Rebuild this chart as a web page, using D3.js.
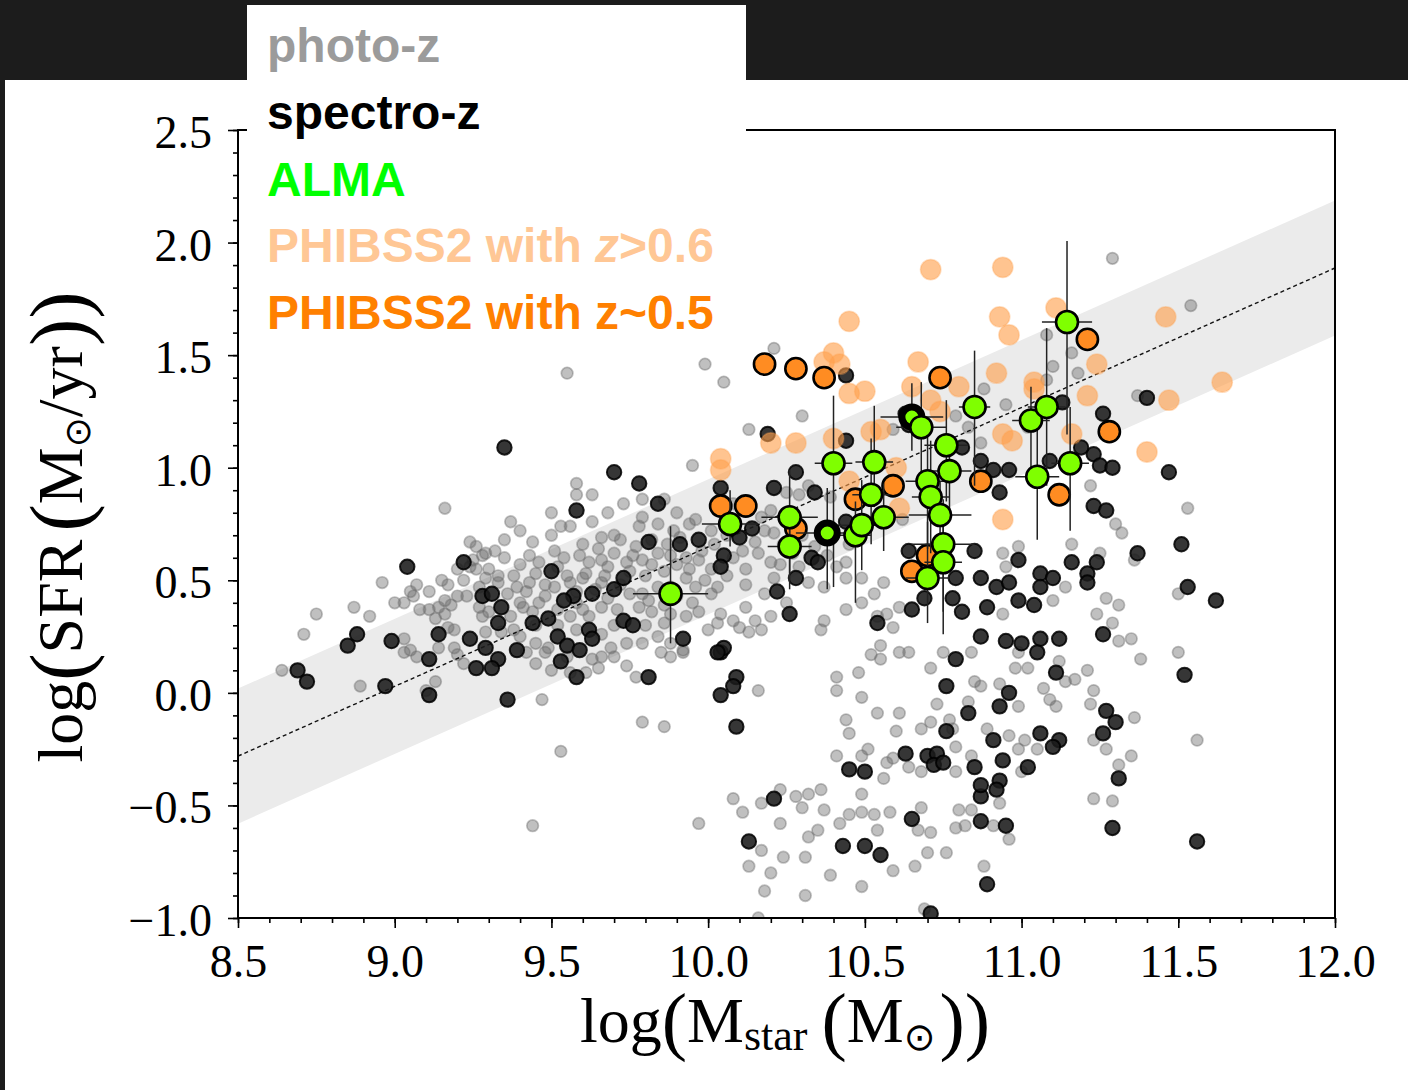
<!DOCTYPE html>
<html>
<head>
<meta charset="utf-8">
<script src="https://cdn.jsdelivr.net/npm/d3@7"></script>
<style>
  html, body { margin: 0; padding: 0; background: #1c1c1c; }
  svg { display: block; }
</style>
</head>
<body>
<svg id="chart" width="1408" height="1090"></svg>
<script>
// ---------- data: [log Mstar, log SFR] ----------
const photoZ = [
  [9.16,0.82],[9.24,0.67],[9.26,0.65],[9.28,0.61],[8.96,0.49],[8.75,0.35],[8.71,0.26],[8.87,0.38],[8.92,0.34],[8.64,0.10],
  [8.89,0.03],[9.13,0.05],[9.10,0.01],[9.11,0.45],[9.07,0.48],[9.05,0.45],[9.00,0.40],[9.03,0.40],[9.06,0.43],[9.15,0.50],
  [9.17,0.48],[9.08,0.37],[9.11,0.37],[9.13,0.33],[9.16,0.35],[9.18,0.39],[9.20,0.43],[9.23,0.43],[9.24,0.56],[9.29,0.51],
  [9.17,0.29],[9.19,0.28],[9.19,0.20],[9.14,0.20],[9.03,0.24],[9.03,0.18],[9.05,0.19],[9.07,0.16],[9.20,0.17],[9.22,0.13],
  [9.28,0.34],[9.27,0.38],[9.14,0.38],[9.16,0.41],[9.53,-0.26],[9.44,-0.59],
  [9.95,1.01],[9.58,0.93],[9.58,0.88],[9.63,0.88],[9.79,0.86],[9.86,0.86],[9.37,0.76],[9.40,0.72],[9.53,0.74],[9.56,0.74],
  [9.63,0.76],[9.66,0.69],[9.70,0.70],[9.78,0.74],[9.84,0.75],[9.89,0.72],[9.94,0.75],[9.79,0.78],[9.29,0.62],[9.32,0.63],
  [9.25,0.59],[9.26,0.55],[9.33,0.52],[9.40,0.57],[9.43,0.61],[9.46,0.58],[9.51,0.63],[9.54,0.60],[9.59,0.61],[9.62,0.58],
  [9.66,0.59],[9.68,0.56],[9.74,0.58],[9.79,0.59],[9.84,0.62],[9.88,0.61],[9.93,0.60],[9.97,0.59],[10.01,0.55],[9.39,0.47],
  [9.43,0.49],[9.51,0.47],[9.56,0.49],[9.60,0.51],[9.66,0.49],[9.79,0.44],[9.84,0.47],[9.88,0.47],[9.93,0.51],[9.96,0.47],
  [9.97,0.36],[9.93,0.34],[9.88,0.35],[9.82,0.36],[9.78,0.38],[9.66,0.38],[9.60,0.37],[9.56,0.34],[9.46,0.40],[9.41,0.38],
  [9.37,0.34],[9.34,0.27],[9.40,0.25],[9.45,0.22],[9.49,0.20],[9.69,0.20],[9.74,0.22],[9.79,0.22],[9.84,0.25],[9.88,0.22],
  [9.92,0.19],[9.85,0.18],[9.88,0.16],[9.70,0.16],[9.63,0.15],[9.45,0.13],[9.48,0.18],[9.61,0.09],[9.56,0.09],[9.50,0.10],
  [9.65,0.11],[10.00,0.28],[9.77,0.07],[9.47,-0.03],[9.79,-0.13],[9.86,-0.15],[9.29,0.27],
  [9.30,0.55],[9.35,0.60],[9.38,0.52],[9.42,0.45],[9.45,0.53],[9.48,0.48],[9.52,0.56],[9.55,0.52],[9.58,0.45],[9.61,0.53],
  [9.64,0.46],[9.67,0.52],[9.70,0.62],[9.72,0.48],[9.75,0.54],[9.77,0.65],[9.80,0.52],[9.82,0.57],[9.86,0.54],[9.90,0.57],
  [9.94,0.55],[9.98,0.63],[10.02,0.66],[10.06,0.70],[10.08,0.60],[10.12,0.55],[10.15,0.67],[10.18,0.72],[10.24,0.66],[10.27,0.62],
  [9.36,0.44],[9.40,0.40],[9.44,0.36],[9.48,0.43],[9.52,0.37],[9.58,0.40],[9.62,0.34],[9.68,0.42],[9.71,0.37],[9.75,0.44],
  [9.81,0.41],[9.86,0.39],[9.90,0.43],[9.95,0.40],[9.99,0.50],[10.03,0.47],[10.06,0.52],[9.33,0.49],[9.27,0.47],[9.22,0.50],
  [9.20,0.55],[9.35,0.68],[9.44,0.67],[9.50,0.70],[9.60,0.66],[9.65,0.64],[9.72,0.68],[9.76,0.61],[9.82,0.68],[9.87,0.66],
  [9.91,0.69],[9.45,0.30],[9.52,0.30],[9.58,0.28],[9.66,0.26],[9.70,0.30],[9.80,0.30],[9.86,0.31],[9.38,0.28],[9.42,0.18],
  [9.55,0.16],[9.66,0.16],[9.74,0.12],[9.30,0.36],[9.50,0.80],[9.68,0.80],[9.73,0.84],[9.90,0.80],[10.08,0.84],[10.12,0.48],
  [10.18,0.44],[10.25,0.40],[10.30,0.70],[10.34,0.65],[10.38,0.61],[10.45,0.66],
  [10.13,1.17],[10.32,0.92],[10.25,0.89],[10.29,0.88],[10.39,0.87],[9.96,0.77],[10.01,0.72],[10.17,0.78],[10.20,0.81],[10.21,0.71],
  [10.11,0.63],[10.16,0.62],[10.20,0.58],[10.23,0.57],[10.21,0.51],[10.29,0.56],[10.32,0.49],[10.37,0.47],[10.41,0.56],[10.44,0.58],
  [10.49,0.51],[10.44,0.51],[10.53,0.44],[10.49,0.40],[10.56,0.49],[10.61,0.38],[10.57,0.35],[10.54,0.34],[10.59,0.29],[10.62,0.77],
  [10.37,0.32],[10.36,0.28],[10.44,0.37],[10.01,0.44],[10.04,0.35],[10.08,0.32],[10.12,0.38],[10.15,0.32],[10.10,0.29],[10.13,0.27],
  [10.17,0.28],[10.03,0.31],[10.20,0.34],[10.16,0.01],[10.41,0.07],[10.48,0.09],[10.41,0.01],[10.52,0.17],[10.55,0.21],[10.61,0.18],
  [10.64,0.18],[10.55,0.15],[10.49,-0.02],[10.61,-0.09],[10.54,-0.09],[10.71,0.11],[10.73,-0.05],
  [9.92,0.18],[10.75,0.18],[10.84,0.18],[10.44,-0.12],[10.45,-0.18],[10.60,-0.17],[10.68,-0.16],[10.71,-0.13],[10.77,-0.12],[10.78,-0.16],
  [10.85,0.05],[10.83,-0.04],[10.41,-0.28],[10.49,-0.28],[10.51,-0.25],[10.57,-0.31],[10.59,-0.29],[10.64,-0.33],[10.68,-0.35],[10.79,-0.24],
  [10.79,-0.35],[10.84,-0.28],[10.56,-0.38],[10.08,-0.47],[10.11,-0.53],[10.17,-0.49],[10.23,-0.43],[10.28,-0.46],[10.32,-0.45],[10.36,-0.43],
  [10.30,-0.51],[10.37,-0.52],[10.23,-0.58],[10.35,-0.61],[10.32,-0.64],[10.42,-0.58],[10.45,-0.54],[10.49,-0.53],[10.53,-0.54],[10.58,-0.53],
  [10.49,-0.45],[10.54,-0.61],[10.68,-0.51],[10.67,-0.61],[10.71,-0.62],[10.80,-0.52],[10.79,-0.60],[10.70,-0.71],[10.76,-0.71],[10.59,-0.79],
  [10.66,-0.77],[10.39,-0.81],[10.49,-0.86],[10.31,-0.90],[10.17,-0.70],[10.13,-0.77],[10.20,-0.80],[10.24,-0.73],[10.31,-0.73],[10.18,-0.88],
  [9.97,-0.58],[10.16,-1.00],[10.69,-0.96],
  [10.94,0.62],[10.99,0.65],[11.16,0.66],[11.25,0.62],[11.36,0.59],[11.14,0.47],[11.10,0.41],[10.95,0.56],[10.94,0.35],[11.27,0.42],
  [11.31,0.39],[11.24,0.35],[11.29,0.31],[11.31,0.23],[11.35,0.24],[11.38,0.15],[11.50,0.18],[10.99,0.18],[11.12,0.14],[10.98,0.11],
  [11.02,0.11],[11.14,0.05],[11.17,0.06],[11.21,0.10],[11.23,0.01],[10.87,0.03],[10.93,0.04],[11.07,0.02],[11.09,-0.03],[11.11,-0.06],
  [11.22,-0.05],[11.36,-0.11],[10.99,-0.06],[10.89,-0.16],[10.96,-0.19],[11.01,-0.21],[11.05,-0.25],[10.99,-0.25],[11.23,-0.21],[11.27,-0.25],
  [11.35,-0.28],[11.31,-0.32],[11.56,-0.21],[11.00,-0.35],[11.23,-0.47],[11.29,-0.48],[10.93,-0.49],[10.84,-0.52],[10.82,-0.59],[10.91,-0.59],
  [10.96,-0.65],[10.88,-0.77],
  [11.29,1.93],[11.54,1.72],[11.37,1.32],[11.22,0.92],[11.53,0.82],[11.30,0.75],[11.32,0.71],[11.50,0.44],
  [10.21,1.53],[9.99,1.46],[10.05,1.38],[10.30,1.23],[9.55,1.42],[10.59,1.17],[11.08,1.59],[11.16,1.51],[11.10,1.45],[11.18,1.42],
  [10.88,1.35],[10.95,1.28],[10.87,1.27],[10.79,1.23],[11.08,1.39],[11.02,1.18],[10.83,1.18],[10.87,1.11]
];

const spectroZ = [
  [8.69,0.10],[8.72,0.05],[8.85,0.21],[8.88,0.26],[8.99,0.23],[8.97,0.03],[9.04,0.56],[9.14,0.26],[9.11,0.15],[9.11,-0.01],
  [9.22,0.58],[9.28,0.43],[9.24,0.24],[9.29,0.20],[9.26,0.11],[9.35,1.09],
  [9.70,0.98],[9.78,0.93],[9.84,0.84],[9.58,0.81],[9.81,0.67],[9.91,0.66],[9.97,0.68],[9.50,0.54],[9.73,0.51],[9.70,0.46],
  [9.63,0.44],[9.57,0.43],[9.54,0.41],[9.31,0.44],[9.34,0.38],[9.33,0.31],[9.44,0.31],[9.49,0.33],[9.73,0.32],[9.76,0.30],
  [9.62,0.28],[9.63,0.24],[9.52,0.25],[9.55,0.21],[9.59,0.19],[9.39,0.19],[9.33,0.15],[9.31,0.11],[9.53,0.14],[9.58,0.07],
  [9.92,0.24],[9.81,0.07],[9.36,-0.03],[10.04,0.18],
  [10.19,1.15],[10.04,0.91],[10.21,0.91],[10.28,0.98],[10.34,0.89],[10.10,0.69],[10.14,0.73],[10.05,0.61],[10.04,0.56],[10.33,0.60],
  [10.35,0.58],[10.28,0.51],[10.22,0.45],[10.26,0.35],[10.54,0.31],[10.64,0.63],[10.65,0.37],[10.69,0.42],[10.44,0.76],[10.05,0.20],
  [10.03,0.18],[10.09,0.07],[10.08,0.03],[10.04,-0.01],[10.09,-0.15],
  [10.79,0.15],[10.76,0.03],[10.83,-0.09],[10.76,-0.17],[10.63,-0.27],[10.70,-0.28],[10.73,-0.27],[10.72,-0.32],[10.75,-0.31],[10.85,-0.33],
  [10.45,-0.34],[10.50,-0.35],[10.21,-0.47],[10.13,-0.66],[10.43,-0.68],[10.50,-0.68],[10.55,-0.72],[10.65,-0.56],[10.71,-0.98],[10.87,-0.57],
  [10.87,-0.46],[10.87,-0.41],
  [10.85,0.63],[10.99,0.59],[11.16,0.58],[11.24,0.58],[11.21,0.53],[11.21,0.49],[11.37,0.62],[11.51,0.66],[11.53,0.47],[11.62,0.41],
  [10.87,0.51],[10.92,0.47],[10.96,0.49],[11.06,0.53],[11.10,0.51],[11.06,0.47],[10.81,0.36],[10.89,0.38],[10.99,0.41],[11.04,0.39],
  [10.87,0.25],[10.95,0.23],[11.00,0.22],[11.06,0.24],[11.12,0.24],[11.05,0.18],[11.26,0.26],[11.52,0.08],[11.11,0.09],[10.96,0.00],
  [10.93,-0.06],[11.27,-0.08],[11.30,-0.13],[11.26,-0.18],[11.06,-0.18],[11.12,-0.21],[11.10,-0.24],[10.91,-0.21],[10.94,-0.30],[11.02,-0.33],
  [10.93,-0.39],[10.92,-0.43],[10.95,-0.59],[11.31,-0.38],[11.29,-0.60],[11.56,-0.66],[10.89,-0.85],
  [10.93,0.89],[11.23,0.83],[11.27,0.81],[10.79,0.51],[10.78,0.42],
  [11.40,1.31],[11.26,1.24],[11.23,1.06],[11.25,1.01],[11.29,1.00],[11.47,0.98],[11.19,1.09],[11.09,1.03],[11.13,1.29],[10.96,0.99],
  [10.91,0.99],[10.87,1.03],[10.81,1.09],[10.44,1.41],[10.44,1.12],[10.63,1.24],[10.64,1.19]
];

const phibssHighZ = [
  [10.71,1.88],[10.94,1.89],[10.45,1.65],[11.11,1.71],[10.93,1.67],[10.96,1.59],[11.46,1.67],[11.64,1.38],[11.47,1.30],[11.40,1.07],
  [10.40,1.51],[10.37,1.47],[10.42,1.46],[10.45,1.33],[10.50,1.34],[10.20,1.11],[10.28,1.11],[10.40,1.13],[10.52,1.16],[10.04,1.04],
  [10.04,0.99],[10.67,1.47],[10.65,1.36],[10.80,1.36],[10.71,1.30],[10.74,1.25],[10.92,1.42],[11.04,1.38],[11.04,1.35],[11.24,1.46],
  [11.21,1.32],[10.94,1.15],[10.97,1.12],[11.16,1.15],[10.45,0.94],[10.60,1.00],[10.61,0.82],[10.94,0.77],[10.55,1.17]
];

const phibssLowZ = [
  [10.18,1.46],[10.28,1.44],[10.37,1.40],[10.04,0.83],[10.12,0.83],[10.28,0.73],[10.47,0.86],[10.59,0.92],[10.74,1.40],[10.87,0.94],
  [11.12,0.88],[11.21,1.57],[11.28,1.16],[10.65,0.54],[10.70,0.61]
];

// ALMA: mass, sfr, mass error, sfr error below, sfr error above, thick-rimmed marker
const alma = [
  [9.88,0.44,0.12,0.22,0.30,0],[10.07,0.75,0.09,0.10,0.15,0],[10.26,0.78,0.09,0.32,0.21,0],[10.26,0.65,0.07,0.12,0.10,0],
  [10.38,0.71,0.10,0.25,0.20,1],[10.40,1.02,0.06,0.55,0.30,0],[10.47,0.70,0.05,0.30,0.15,0],[10.49,0.745,0.08,0.20,0.20,0],
  [10.52,0.88,0.06,0.22,0.25,0],[10.53,1.025,0.06,0.20,0.25,0],[10.56,0.78,0.08,0.15,0.15,0],[10.65,1.225,0.10,0.15,0.15,1],
  [10.68,1.18,0.08,0.25,0.20,0],[10.70,0.94,0.07,0.30,0.20,0],[10.71,0.87,0.06,0.25,0.25,0],[10.76,1.10,0.07,0.25,0.20,0],
  [10.77,0.985,0.07,0.20,0.15,0],[10.74,0.79,0.10,0.25,0.15,0],[10.75,0.66,0.10,0.30,0.20,0],[10.75,0.58,0.06,0.32,0.25,0],
  [10.70,0.51,0.07,0.20,0.25,0],[10.85,1.27,0.05,0.35,0.25,0],[11.03,1.21,0.06,0.25,0.15,0],[11.08,1.27,0.06,0.35,0.35,0],
  [11.05,0.96,0.07,0.28,0.25,0],[11.155,1.02,0.06,0.30,0.25,0],[11.145,1.647,0.08,0.50,0.36,0]
];

// main sequence line end points and scatter half-width (dex)
const mainSequence = [[8.5,-0.281],[12.0,1.887]];
const msScatter = 0.3;

const xTicks = [8.5, 9.0, 9.5, 10.0, 10.5, 11.0, 11.5, 12.0];
const yTicks = [-1.0, -0.5, 0.0, 0.5, 1.0, 1.5, 2.0, 2.5];
const xMinor = d3.range(85, 121).map(v => v / 10);
const yMinor = d3.range(-10, 26).map(v => v / 10);

const legendItems = [
  { parts: [["photo-z", false]], color: "#9b9b9b" },
  { parts: [["spectro-z", false]], color: "#000000" },
  { parts: [["ALMA", false]], color: "#00ff00" },
  { parts: [["PHIBSS2 with ", false], ["z", true], [">0.6", false]], color: "#ffc795" },
  { parts: [["PHIBSS2 with z~0.5", false]], color: "#ff8000" }
];

// ---------- layout ----------
const W = 1408, H = 1090;
const P = { left: 238, right: 1335, top: 130, bottom: 918 };
const svg = d3.select("#chart");

const x = d3.scaleLinear().domain([8.5, 12.0]).range([P.left, P.right]);
const y = d3.scaleLinear().domain([-1.0, 2.5]).range([P.bottom, P.top]);

svg.append("rect").attr("width", W).attr("height", H).attr("fill", "#1c1c1c");
svg.append("rect").attr("x", 5).attr("y", 80).attr("width", W - 5).attr("height", H - 80).attr("fill", "#ffffff");

svg.append("clipPath").attr("id", "plotClip")
  .append("rect").attr("x", P.left).attr("y", P.top)
  .attr("width", P.right - P.left).attr("height", P.bottom - P.top);

const plot = svg.append("g").attr("clip-path", "url(#plotClip)");

// main-sequence band and line
const band = [
  [mainSequence[0][0], mainSequence[0][1] + msScatter],
  [mainSequence[1][0], mainSequence[1][1] + msScatter],
  [mainSequence[1][0], mainSequence[1][1] - msScatter],
  [mainSequence[0][0], mainSequence[0][1] - msScatter]
];
plot.append("path")
  .attr("d", d3.line().x(d => x(d[0])).y(d => y(d[1]))(band) + "Z")
  .attr("fill", "#ebebeb");

// photometric redshifts
plot.append("g").selectAll("circle").data(photoZ).join("circle")
  .attr("cx", d => x(d[0])).attr("cy", d => y(d[1])).attr("r", 5.8)
  .attr("fill", "#6a6a6a").attr("fill-opacity", 0.42)
  .attr("stroke", "#6a6a6a").attr("stroke-opacity", 0.42).attr("stroke-width", 1.7);

// main-sequence dashed line
plot.append("path")
  .attr("d", d3.line().x(d => x(d[0])).y(d => y(d[1]))(mainSequence))
  .attr("fill", "none").attr("stroke", "#111").attr("stroke-width", 1.4)
  .attr("stroke-dasharray", "4,3");

// spectroscopic redshifts
plot.append("g").selectAll("circle").data(spectroZ).join("circle")
  .attr("cx", d => x(d[0])).attr("cy", d => y(d[1])).attr("r", 7.2)
  .attr("fill", "#1a1a1a").attr("fill-opacity", 0.88)
  .attr("stroke", "#000").attr("stroke-opacity", 0.85).attr("stroke-width", 2);

// PHIBSS2 z>0.6
plot.append("g").selectAll("circle").data(phibssHighZ).join("circle")
  .attr("cx", d => x(d[0])).attr("cy", d => y(d[1])).attr("r", 10.2)
  .attr("fill", "#ffa04c").attr("fill-opacity", 0.62)
  .attr("stroke", "#ffa04c").attr("stroke-opacity", 0.35).attr("stroke-width", 1.5);

// PHIBSS2 z~0.5
plot.append("g").selectAll("circle").data(phibssLowZ).join("circle")
  .attr("cx", d => x(d[0])).attr("cy", d => y(d[1])).attr("r", 10.6)
  .attr("fill", "#ff8c22").attr("stroke", "#000").attr("stroke-width", 2.6);

// ALMA error bars
const eb = plot.append("g").attr("stroke", "#222").attr("stroke-width", 1.5);
alma.forEach(d => {
  eb.append("line").attr("x1", x(d[0])).attr("x2", x(d[0]))
    .attr("y1", y(d[1] - d[3])).attr("y2", y(d[1] + d[4]));
  eb.append("line").attr("x1", x(d[0] - d[2])).attr("x2", x(d[0] + d[2]))
    .attr("y1", y(d[1])).attr("y2", y(d[1]));
});

// ALMA markers
plot.append("g").selectAll("circle").data(alma).join("circle")
  .attr("cx", d => x(d[0])).attr("cy", d => y(d[1]))
  .attr("r", d => d[5] ? 10 : 11)
  .attr("fill", "#7fff00").attr("stroke", "#000")
  .attr("stroke-width", d => d[5] ? 7 : 2.6);

// ---------- axes ----------
const fmt = d3.format(".1f");
const serif = "'Liberation Serif', 'Times New Roman', serif";

const xAxis = svg.append("g").attr("transform", `translate(0,${P.bottom})`)
  .call(d3.axisBottom(x).tickValues(xTicks).tickSize(10).tickFormat(fmt));
const xAxisMinor = svg.append("g").attr("transform", `translate(0,${P.bottom})`)
  .call(d3.axisBottom(x).tickValues(xMinor).tickSize(5).tickFormat(""));
const yAxis = svg.append("g").attr("transform", `translate(${P.left},0)`)
  .call(d3.axisLeft(y).tickValues(yTicks).tickSize(10).tickFormat(fmt));
const yAxisMinor = svg.append("g").attr("transform", `translate(${P.left},0)`)
  .call(d3.axisLeft(y).tickValues(yMinor).tickSize(5).tickFormat(""));

[xAxis, xAxisMinor, yAxis, yAxisMinor].forEach(g => {
  g.select(".domain").remove();
  g.selectAll(".tick line").attr("stroke", "#000").attr("stroke-width", 1.6);
});
xAxis.selectAll("text")
  .attr("y", 26).attr("dy", "0.71em")
  .attr("font-family", serif).attr("font-size", 46).attr("fill", "#000");
yAxis.selectAll("text")
  .attr("x", -26).attr("dy", "0.38em")
  .attr("font-family", serif).attr("font-size", 46).attr("fill", "#000");

// frame
svg.append("rect").attr("x", P.left).attr("y", P.top)
  .attr("width", P.right - P.left).attr("height", P.bottom - P.top)
  .attr("fill", "none").attr("stroke", "#000").attr("stroke-width", 2);

// axis titles
const yTitle = svg.append("text")
  .attr("transform", "translate(82,527) rotate(-90)")
  .attr("text-anchor", "middle")
  .attr("font-family", serif).attr("font-size", 64).attr("fill", "#000");
yTitle.append("tspan").text("log");
yTitle.append("tspan").attr("font-size", 82).attr("dy", 5).text("(");
yTitle.append("tspan").attr("dy", -5).text("SFR");
yTitle.append("tspan").attr("font-size", 82).attr("dy", 5).attr("dx", 8).text("(");
yTitle.append("tspan").attr("dy", -5).text("M");
yTitle.append("tspan").attr("font-size", 36).attr("font-family", "'DejaVu Sans', sans-serif").attr("dy", 8).text("⊙");
yTitle.append("tspan").attr("dy", -8).text("/yr");
yTitle.append("tspan").attr("font-size", 82).attr("dy", 5).text("))");

const xTitle = svg.append("text")
  .attr("x", 785).attr("y", 1042)
  .attr("text-anchor", "middle")
  .attr("font-family", serif).attr("font-size", 64).attr("fill", "#000");
xTitle.append("tspan").text("log");
xTitle.append("tspan").attr("font-size", 76).attr("dy", 4).text("(");
xTitle.append("tspan").attr("dy", -4).text("M");
xTitle.append("tspan").attr("font-size", 44).attr("dy", 8).text("star");
xTitle.append("tspan").attr("font-size", 76).attr("dy", -4).attr("dx", 14).text("(");
xTitle.append("tspan").attr("dy", -4).text("M");
xTitle.append("tspan").attr("font-size", 38).attr("font-family", "'DejaVu Sans', sans-serif").attr("dy", 8).text("⊙");
xTitle.append("tspan").attr("font-size", 76).attr("dy", -4).attr("dx", 4).text("))");

// ---------- legend ----------
svg.append("rect").attr("x", 247).attr("y", 5).attr("width", 499).attr("height", 127).attr("fill", "#ffffff");
const legend = svg.append("g")
  .attr("font-family", "'Liberation Sans', Arial, sans-serif")
  .attr("font-weight", "bold").attr("font-size", 48);
legendItems.forEach((item, i) => {
  const t = legend.append("text").attr("x", 267).attr("y", 62 + i * 66.8).attr("fill", item.color);
  item.parts.forEach(p => {
    t.append("tspan").attr("font-style", p[1] ? "italic" : "normal").text(p[0]);
  });
});
</script>
</body>
</html>
